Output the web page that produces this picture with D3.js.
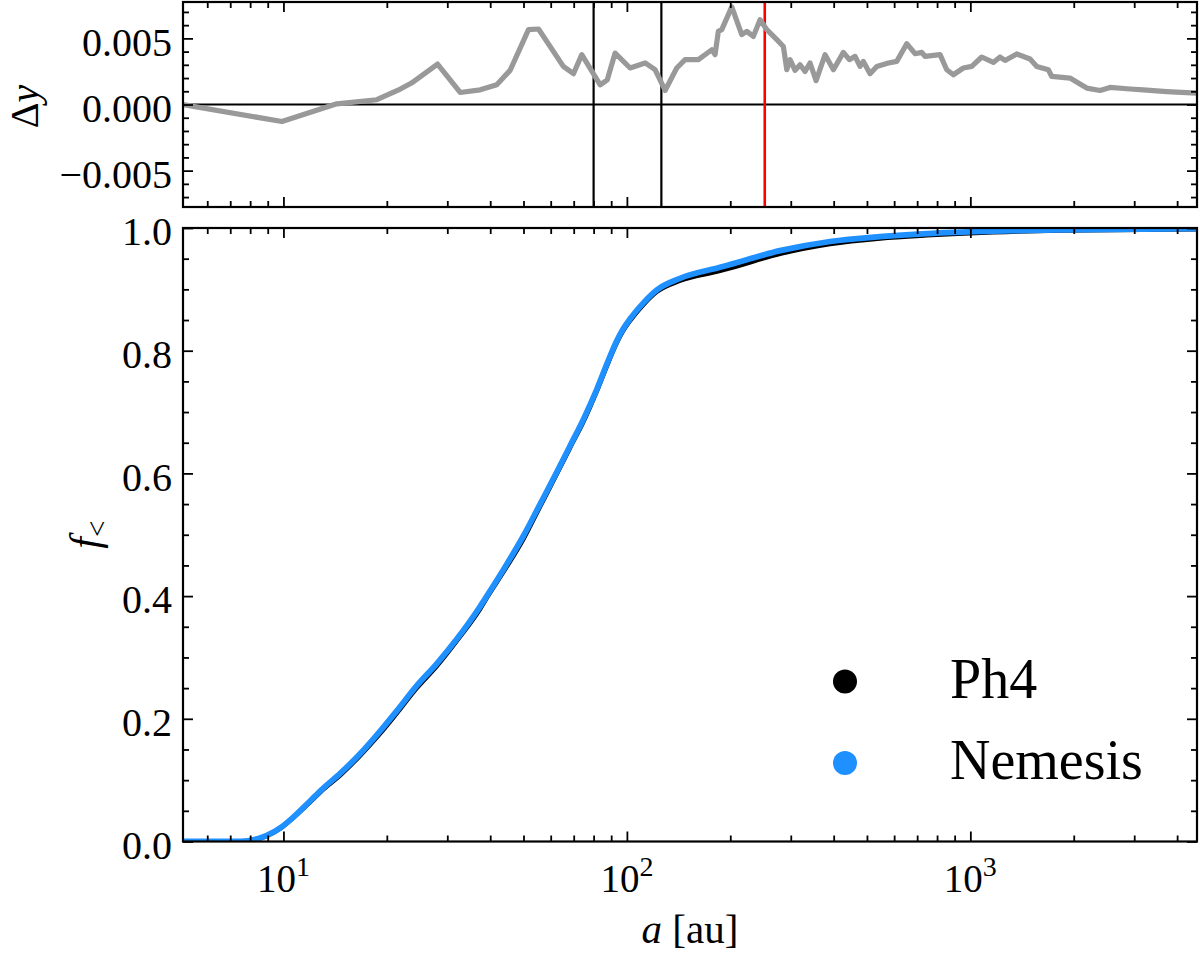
<!DOCTYPE html>
<html>
<head>
<meta charset="utf-8">
<script src="https://cdn.jsdelivr.net/npm/d3@7"></script>
<style>
  body { margin: 0; background: #fff; }
  text { font-family: "Liberation Serif", "Times New Roman", serif; fill: #000; }
</style>
</head>
<body>
<div id="chart"></div>
<script>
// ---- data ----
// top panel: difference between the two cumulative curves
const diffA = [5.1, 9.9, 14.3, 18.7, 21.9, 23.6, 28.1, 32.7, 37.4, 41.8, 45.7, 51.7, 55.3, 65.3, 69.9, 73.9,
  83.6, 87.7, 92.4, 102.2, 113.0, 120.8, 129.2, 139.7, 147.7, 161.5, 176.7, 180.6, 184.6, 188.9, 202.0,
  216.0, 223.4, 233.5, 244.2, 255.4, 273.3, 285.5, 292.1, 298.6, 308.8, 319.3, 330.2, 341.4, 355.5, 377.6,
  399.3, 426.9, 444.4, 461.7, 477.4, 488.1, 510.5, 534.0, 577.1, 610.5, 652.8, 690.2, 722.0, 738.1, 816.3,
  853.8, 892.4, 954.1, 1009.5, 1079.4, 1166.7, 1220.3, 1261.9, 1364.9, 1492.3, 1561, 1687, 1726, 1951,
  2062, 2183, 2386, 2551, 2917, 3189, 3731, 4561];
const diffY = [0, -0.00129, 0.00005, 0.00036, 0.00117, 0.00162, 0.00306, 0.00091, 0.00111, 0.00149, 0.00258,
  0.00566, 0.00571, 0.00288, 0.00233, 0.00377, 0.00149, 0.00187, 0.00389, 0.00276, 0.00314, 0.00263, 0.00106,
  0.00276, 0.00339, 0.00339, 0.00414, 0.00377, 0.00553, 0.00566, 0.00738, 0.00528, 0.00553, 0.00515, 0.00642,
  0.00566, 0.0049, 0.00439, 0.00263, 0.00339, 0.00258, 0.00301, 0.0025, 0.00314, 0.0018, 0.00377, 0.00263,
  0.00394, 0.00339, 0.00364, 0.00288, 0.00326, 0.00233, 0.00288, 0.00314, 0.00326, 0.0046, 0.00384, 0.00394,
  0.00364, 0.00377, 0.00263, 0.00225, 0.00276, 0.00288, 0.00359, 0.00318, 0.00359, 0.00333, 0.00382, 0.00344,
  0.00288, 0.00263, 0.00212, 0.002, 0.00162, 0.00124, 0.00106, 0.00129, 0.00117, 0.00111, 0.00098, 0.00086];

// vertical marker lines in the top panel
const markerA = [80, 126, 252];
const markerColor = ["#000000", "#000000", "#ff0000"];

// bottom panel: cumulative fraction f_<
const cdfA = [5.1, 7.5, 8.46, 8.95, 9.89, 10.7, 11.96, 13.07, 14.63, 16.72, 19.12, 21.38, 24.45, 27.97, 31.97,
  37.37, 39.09, 44.7, 49.96, 55.89, 62.5, 68.34, 74.7, 81.74, 87.42, 93.46, 97.7, 102.2, 111.7, 122.2, 142.8,
  186.7, 204.2, 279.2, 390.6, 545.9, 746.5, 1166.7, 1824, 4570];
const nemesisF = [0, 0, 0.005, 0.010, 0.024, 0.040, 0.066, 0.087, 0.111, 0.143, 0.180, 0.213, 0.254, 0.290, 0.330,
  0.383, 0.400, 0.452, 0.498, 0.550, 0.602, 0.645, 0.688, 0.737, 0.778, 0.816, 0.836, 0.852, 0.878, 0.899, 0.918,
  0.936, 0.942, 0.963, 0.978, 0.986, 0.991, 0.995, 0.997, 0.999];
const ph4F = [0, 0, 0.004, 0.009, 0.023, 0.039, 0.064, 0.085, 0.108, 0.140, 0.176, 0.209, 0.250, 0.286, 0.327,
  0.379, 0.397, 0.448, 0.493, 0.546, 0.599, 0.642, 0.684, 0.734, 0.775, 0.813, 0.833, 0.849, 0.875, 0.896, 0.914,
  0.930, 0.936, 0.958, 0.974, 0.983, 0.988, 0.993, 0.996, 0.998];

const seriesNames = ["Ph4", "Nemesis"];
const seriesColors = ["#000000", "#1e90ff"];

// ticks
const xMajor = [10, 100, 1000];
const xExp = ["1", "2", "3"];
const xMinor = [6, 7, 8, 9, 20, 30, 40, 50, 60, 70, 80, 90, 200, 300, 400, 500, 600, 700, 800, 900, 2000, 3000, 4000];
const dyMajor = [-0.005, 0, 0.005];
const dyMinor = [-0.007, -0.006, -0.004, -0.003, -0.002, -0.001, 0.001, 0.002, 0.003, 0.004, 0.006, 0.007];
const fMajor = [0, 0.2, 0.4, 0.6, 0.8, 1.0];
const fMinor = [0.05, 0.1, 0.15, 0.25, 0.3, 0.35, 0.45, 0.5, 0.55, 0.65, 0.7, 0.75, 0.85, 0.9, 0.95];

// ---- layout ----
const width = 1200, height = 955;
const left = 183, right = 1197;
const top1 = 2, bot1 = 207;      // top panel
const top2 = 228, bot2 = 841.5;  // bottom panel

const svg = d3.select("#chart").append("svg")
  .attr("width", width).attr("height", height)
  .attr("viewBox", `0 0 ${width} ${height}`);

const x = d3.scaleLog().domain([5.1, 4570]).range([left, right]);
const yTop = d3.scaleLinear().domain([-0.00775, 0.00775]).range([bot1, top1]);
const yBot = d3.scaleLinear().domain([0, 1]).range([bot2, top2]);

const defs = svg.append("defs");
defs.append("clipPath").attr("id", "clipTop").append("rect")
  .attr("x", left).attr("y", top1).attr("width", right - left).attr("height", bot1 - top1);
defs.append("clipPath").attr("id", "clipBot").append("rect")
  .attr("x", left).attr("y", top2).attr("width", right - left).attr("height", bot2 - top2);

// ---- top panel ----
const gTop = svg.append("g").attr("clip-path", "url(#clipTop)");

gTop.append("line")
  .attr("x1", left).attr("x2", right)
  .attr("y1", yTop(0)).attr("y2", yTop(0))
  .attr("stroke", "#000").attr("stroke-width", 2.2);

markerA.forEach((a, i) => {
  gTop.append("line")
    .attr("x1", x(a)).attr("x2", x(a))
    .attr("y1", top1).attr("y2", bot1)
    .attr("stroke", markerColor[i])
    .attr("stroke-width", i === 2 ? 2.6 : 2.2);
});

const diffLine = d3.line().x(d => x(d[0])).y(d => yTop(d[1]));
gTop.append("path")
  .attr("d", diffLine(d3.zip(diffA, diffY)))
  .attr("fill", "none")
  .attr("stroke", "#999999")
  .attr("stroke-width", 5.2)
  .attr("stroke-linejoin", "round");

// ---- bottom panel ----
const gBot = svg.append("g").attr("clip-path", "url(#clipBot)");
const cdfLine = d3.line().x(d => x(d[0])).y(d => yBot(d[1])).curve(d3.curveMonotoneX);

gBot.append("path")
  .attr("d", cdfLine(d3.zip(cdfA, ph4F)))
  .attr("fill", "none").attr("stroke", seriesColors[0]).attr("stroke-width", 4.5);
gBot.append("path")
  .attr("d", cdfLine(d3.zip(cdfA, nemesisF)))
  .attr("fill", "none").attr("stroke", seriesColors[1]).attr("stroke-width", 5.8);

// ---- axes (ticks inward on all four sides) ----
function frameAxes(y, y0, y1, yMaj, yMin, yFmt, withXLabels) {
  const majLen = 10, minLen = 6;
  const add = (axis, tx, ty) => {
    const g = svg.append("g").attr("transform", `translate(${tx},${ty})`).call(axis);
    g.select(".domain").remove();
    g.selectAll(".tick line").attr("stroke", "#000").attr("stroke-width", 1.8);
    return g;
  };
  add(d3.axisBottom(x).tickValues(xMajor).tickSize(-majLen).tickFormat(""), 0, y1);
  add(d3.axisBottom(x).tickValues(xMinor).tickSize(-minLen).tickFormat(""), 0, y1);
  add(d3.axisTop(x).tickValues(xMajor).tickSize(-majLen).tickFormat(""), 0, y0);
  add(d3.axisTop(x).tickValues(xMinor).tickSize(-minLen).tickFormat(""), 0, y0);

  const gl = add(d3.axisLeft(y).tickValues(yMaj).tickSize(-majLen).tickPadding(11).tickFormat(yFmt), left, 0);
  gl.selectAll(".tick text")
    .attr("dy", "0.42em")
    .style("font-family", '"Liberation Serif", "Times New Roman", serif')
    .style("font-size", "40px");
  add(d3.axisLeft(y).tickValues(yMin).tickSize(-minLen).tickFormat(""), left, 0);
  add(d3.axisRight(y).tickValues(yMaj).tickSize(-majLen).tickFormat(""), right, 0);
  add(d3.axisRight(y).tickValues(yMin).tickSize(-minLen).tickFormat(""), right, 0);

  svg.append("rect")
    .attr("x", left).attr("y", y0)
    .attr("width", right - left).attr("height", y1 - y0)
    .attr("fill", "none").attr("stroke", "#000").attr("stroke-width", 2.2);

  if (withXLabels) {
    xMajor.forEach((v, i) => {
      const t = svg.append("text")
        .attr("x", x(v)).attr("y", y1 + 50)
        .attr("text-anchor", "middle")
        .style("font-size", "39px");
      t.append("tspan").text("10");
      t.append("tspan").attr("dy", -16).style("font-size", "28px").text(xExp[i]);
    });
  }
}

frameAxes(yTop, top1, bot1, dyMajor, dyMinor, d3.format(".3f"), false);
frameAxes(yBot, top2, bot2, fMajor, fMinor, d3.format(".1f"), true);

// ---- axis titles ----
const dyTitle = svg.append("text")
  .attr("transform", `translate(38,${(top1 + bot1) / 2 + 2}) rotate(-90)`)
  .attr("text-anchor", "middle")
  .style("font-size", "40px");
dyTitle.append("tspan").text("Δ");
dyTitle.append("tspan").style("font-style", "italic").text("y");

const fTitle = svg.append("text")
  .attr("transform", `translate(99,${(top2 + bot2) / 2}) rotate(-90)`)
  .attr("text-anchor", "middle")
  .style("font-size", "42px");
fTitle.append("tspan").style("font-style", "italic").text("f");
fTitle.append("tspan").attr("dy", 8).style("font-size", "29px").text("<");

const xTitle = svg.append("text")
  .attr("x", (left + right) / 2).attr("y", 943)
  .attr("text-anchor", "middle")
  .style("font-size", "41px");
xTitle.append("tspan").style("font-style", "italic").text("a");
xTitle.append("tspan").text(" [au]");

// ---- legend ----
const legendY = [681.5, 763];
seriesNames.forEach((name, i) => {
  svg.append("circle")
    .attr("cx", 845).attr("cy", legendY[i]).attr("r", 12)
    .attr("fill", seriesColors[i]);
  svg.append("text")
    .attr("x", 950).attr("y", legendY[i] + 16)
    .style("font-size", "56px")
    .text(name);
});
</script>
</body>
</html>
